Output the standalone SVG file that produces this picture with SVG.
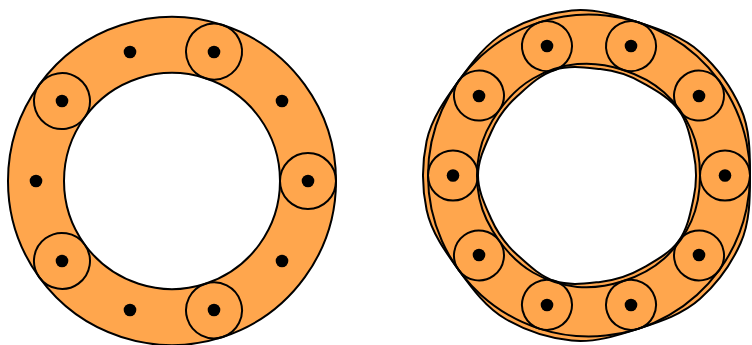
<svg xmlns="http://www.w3.org/2000/svg" xmlns:xlink="http://www.w3.org/1999/xlink" width="752" height="345" viewBox="0 0 752 345">
<style>
.fill{fill:#ffa64d;stroke:none}
.line{fill:none;stroke:#000;stroke-width:2;stroke-linejoin:round}
.dot{fill:#000}
</style>
<defs>
<path id="edgeL" d="M132.68,-96.40 A164,164 0 0 1 132.68,96.40 A28,28 0 0 1 87.37,63.48 A108,108 0 0 0 87.37,-63.48 A28,28 0 0 1 132.68,-96.40 Z"/>
<path id="edgeA" d="M162.37,34.51 C157.63,56.81 143.66,76.19 130.26,94.64 A25,25 0 0 1 89.80,65.25 C98.97,52.63 106.31,38.55 109.55,23.29 A112,112 0 0 0 109.55,-23.29 C106.31,-38.55 98.97,-52.63 89.80,-65.25 A25,25 0 0 1 130.26,-94.64 C143.66,-76.19 157.63,-56.81 162.37,-34.51 A166,166 0 0 1 162.37,34.51 Z"/>
<path id="edgeB" d="M157.48,33.47 C152.78,55.58 143.54,76.36 130.26,94.64 A25,25 0 0 1 89.80,65.25 C98.79,52.87 101.48,37.22 104.66,22.25 A107,107 0 0 0 104.66,-22.25 C101.48,-37.22 98.79,-52.87 89.80,-65.25 A25,25 0 0 1 130.26,-94.64 C143.54,-76.36 152.78,-55.58 157.48,-33.47 A161,161 0 0 1 157.48,33.47 Z"/>
</defs>
<g id="connectors">
<g class="fill">
<g transform="translate(172,181)">
<use xlink:href="#edgeL" transform="rotate(252)"/><use xlink:href="#edgeL" transform="rotate(324)"/><use xlink:href="#edgeL" transform="rotate(36)"/><use xlink:href="#edgeL" transform="rotate(108)"/><use xlink:href="#edgeL" transform="rotate(180)"/>
</g>
<g transform="translate(589,175.5)">
<use xlink:href="#edgeA" transform="rotate(36)"/><use xlink:href="#edgeA" transform="rotate(108)"/><use xlink:href="#edgeA" transform="rotate(180)"/><use xlink:href="#edgeA" transform="rotate(252)"/><use xlink:href="#edgeA" transform="rotate(324)"/>
<use xlink:href="#edgeB" transform="rotate(0)"/><use xlink:href="#edgeB" transform="rotate(72)"/><use xlink:href="#edgeB" transform="rotate(144)"/><use xlink:href="#edgeB" transform="rotate(216)"/><use xlink:href="#edgeB" transform="rotate(288)"/>
</g>
</g>
<g class="line">
<g transform="translate(172,181)">
<use xlink:href="#edgeL" transform="rotate(252)"/><use xlink:href="#edgeL" transform="rotate(324)"/><use xlink:href="#edgeL" transform="rotate(36)"/><use xlink:href="#edgeL" transform="rotate(108)"/><use xlink:href="#edgeL" transform="rotate(180)"/>
</g>
<g transform="translate(589,175.5)">
<use xlink:href="#edgeA" transform="rotate(36)"/><use xlink:href="#edgeA" transform="rotate(108)"/><use xlink:href="#edgeA" transform="rotate(180)"/><use xlink:href="#edgeA" transform="rotate(252)"/><use xlink:href="#edgeA" transform="rotate(324)"/>
<use xlink:href="#edgeB" transform="rotate(0)"/><use xlink:href="#edgeB" transform="rotate(72)"/><use xlink:href="#edgeB" transform="rotate(144)"/><use xlink:href="#edgeB" transform="rotate(216)"/><use xlink:href="#edgeB" transform="rotate(288)"/>
</g>
</g>
</g>
<g id="nodes">
<g id="L0"><circle class="dot" cx="308" cy="181" r="6.3"/></g>
<g id="L1"><circle class="dot" cx="282" cy="261" r="6.3"/></g>
<g id="L2"><circle class="dot" cx="214" cy="310" r="6.3"/></g>
<g id="L3"><circle class="dot" cx="130" cy="310" r="6.3"/></g>
<g id="L4"><circle class="dot" cx="62" cy="261" r="6.3"/></g>
<g id="L5"><circle class="dot" cx="36" cy="181" r="6.3"/></g>
<g id="L6"><circle class="dot" cx="62" cy="101" r="6.3"/></g>
<g id="L7"><circle class="dot" cx="130" cy="52" r="6.3"/></g>
<g id="L8"><circle class="dot" cx="214" cy="52" r="6.3"/></g>
<g id="L9"><circle class="dot" cx="282" cy="101" r="6.3"/></g>
<g id="R0"><circle class="dot" cx="725" cy="175.5" r="6.3"/></g>
<g id="R1"><circle class="dot" cx="699" cy="255" r="6.3"/></g>
<g id="R2"><circle class="dot" cx="631" cy="305" r="6.3"/></g>
<g id="R3"><circle class="dot" cx="547" cy="305" r="6.3"/></g>
<g id="R4"><circle class="dot" cx="479" cy="255" r="6.3"/></g>
<g id="R5"><circle class="dot" cx="453" cy="175.5" r="6.3"/></g>
<g id="R6"><circle class="dot" cx="479" cy="96" r="6.3"/></g>
<g id="R7"><circle class="dot" cx="547" cy="46" r="6.3"/></g>
<g id="R8"><circle class="dot" cx="631" cy="46" r="6.3"/></g>
<g id="R9"><circle class="dot" cx="699" cy="96" r="6.3"/></g>
</g>
</svg>
